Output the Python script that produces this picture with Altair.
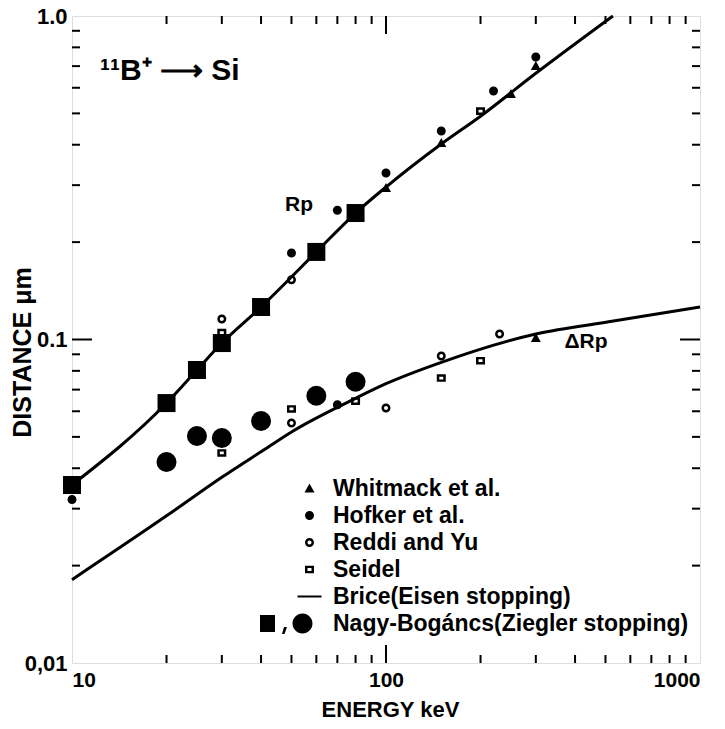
import altair as alt
import pandas as pd

# ---------------- data ----------------
series_names = [
    "Whitmack et al.",
    "Hofker et al.",
    "Reddi and Yu",
    "Seidel",
    "Brice(Eisen stopping)",
    "Nagy-Bogáncs(Ziegler stopping)",
]

whitmack_E = [100, 150, 250, 300, 300]
whitmack_D = [0.294, 0.405, 0.574, 0.70, 0.101]
hofker_E = [10, 50, 70, 100, 150, 220, 300, 70]
hofker_D = [0.032, 0.185, 0.251, 0.327, 0.441, 0.586, 0.747, 0.0628]
reddi_E = [30, 50, 50, 100, 150, 230]
reddi_D = [0.1157, 0.153, 0.0552, 0.0614, 0.0889, 0.104]
seidel_E = [30, 200, 30, 50, 80, 150, 200]
seidel_D = [0.105, 0.508, 0.0446, 0.061, 0.0645, 0.076, 0.086]

nagy_rp_E = [10, 20, 25, 30, 40, 60, 80]
nagy_rp_D = [0.0355, 0.0636, 0.0805, 0.0975, 0.126, 0.1865, 0.246]
nagy_drp_E = [20, 25, 30, 40, 60, 80]
nagy_drp_D = [0.0418, 0.0503, 0.0496, 0.056, 0.067, 0.074]

brice_rp_E = [10, 20, 25, 30, 40, 60, 80, 100, 150, 200, 300, 528]
brice_rp_D = [0.0355, 0.0636, 0.0805, 0.0975, 0.126, 0.1865, 0.246, 0.296, 0.402, 0.49, 0.665, 1.0]
brice_drp_E = [10, 20, 30, 41, 50, 80, 100, 150, 300, 530, 1000]
brice_drp_D = [0.0181, 0.0285, 0.0375, 0.0457, 0.0518, 0.0658, 0.073, 0.085, 0.104, 0.114, 0.126]

x_tick_values = [10, 100, 1000]
x_tick_labels = ["10", "100", "1000"]
y_tick_values = [0.01, 0.1, 1.0]
y_tick_labels = ["0,01", "0.1", "1.0"]
x_minor = [20, 30, 40, 50, 60, 70, 80, 90, 200, 300, 400, 500, 600, 700, 800, 900]
x_major = [100]
y_minor = [0.02, 0.03, 0.04, 0.05, 0.06, 0.07, 0.08, 0.09, 0.2, 0.3, 0.4, 0.5, 0.6, 0.7, 0.8, 0.9]
y_major = [0.1]

# ---------------- tables ----------------
pts = pd.concat([
    pd.DataFrame({"E": whitmack_E, "D": whitmack_D, "series": series_names[0]}),
    pd.DataFrame({"E": hofker_E, "D": hofker_D, "series": series_names[1]}),
    pd.DataFrame({"E": reddi_E, "D": reddi_D, "series": series_names[2]}),
    pd.DataFrame({"E": seidel_E, "D": seidel_D, "series": series_names[3]}),
], ignore_index=True)
brice = pd.concat([
    pd.DataFrame({"E": brice_rp_E, "D": brice_rp_D, "curve": "Rp"}),
    pd.DataFrame({"E": brice_drp_E, "D": brice_drp_D, "curve": "dRp"}),
], ignore_index=True)
nagy_sq = pd.DataFrame({"E": nagy_rp_E, "D": nagy_rp_D})
nagy_ci = pd.DataFrame({"E": nagy_drp_E, "D": nagy_drp_D})

W, H = 628, 647
FONT = "Liberation Sans"

# symbol shapes (unit box, scaled by sqrt(size)/2)
TRI = "M0,-0.5L0.5,0.4L-0.5,0.4Z"
DOT = "M-0.45,0A0.45,0.45 0 1,0 0.45,0A0.45,0.45 0 1,0 -0.45,0Z"
RING = DOT + "M-0.2,0A0.2,0.2 0 1,1 0.2,0A0.2,0.2 0 1,1 -0.2,0Z"
SQRING = "M-0.45,-0.38H0.45V0.38H-0.45ZM-0.2,-0.14V0.14H0.2V-0.14Z"
LINE = "M-1.2,-0.1H1.2V0.1H-1.2Z"
NAGY = ("M-4.95,-0.85H-3.45V0.85H-4.95Z"
        "M-2.55,0.35L-2.25,0.35L-2.5,1.05L-2.75,1.05Z"
        "M-1.7,0A1,1 0 1,0 0.3,0A1,1 0 1,0 -1.7,0Z")

xscale = alt.Scale(type="log", domain=[10, 1000], nice=False)
yscale = alt.Scale(type="log", domain=[0.01, 1], nice=False)

def lab_expr(vals, labs):
    parts = " : ".join(f"datum.value == {v} ? '{l}'" for v, l in zip(vals, labs))
    return parts + " : ''"

xenc = alt.X("E:Q", scale=xscale, axis=alt.Axis(
    values=x_tick_values, labelExpr=lab_expr(x_tick_values, x_tick_labels),
    title="ENERGY keV", ticks=False, domain=False, grid=False,
    labelFont=FONT, labelFontSize=21, labelFontWeight="bold", labelPadding=6,
    labelColor="black", titleColor="black",
    titleFont=FONT, titleFontSize=22, titleFontWeight="bold",
    titleX=318, titleY=46, titleBaseline="middle", titleAlign="center"))
yenc = alt.Y("D:Q", scale=yscale, axis=alt.Axis(
    values=y_tick_values, labelExpr=lab_expr(y_tick_values, y_tick_labels),
    title="DISTANCE μm", ticks=False, domain=False, grid=False,
    labelFont=FONT, labelFontSize=22, labelFontWeight="bold", labelPadding=5,
    labelColor="black", titleColor="black",
    titleFont=FONT, titleFontSize=25, titleFontWeight="bold",
    titleX=-50, titleY=336, titleBaseline="middle", titleAlign="center", titleAngle=-90))

layers = []

# inward ticks on all four sides
def xticks(vals, ln):
    df = pd.DataFrame({"E": vals})
    b = alt.Chart(df).mark_rule(color="black", strokeWidth=2)
    return [b.encode(x=alt.X("E:Q", scale=xscale), y=alt.value(0), y2=alt.value(ln)),
            b.encode(x=alt.X("E:Q", scale=xscale), y=alt.value(H), y2=alt.value(H - ln))]

def yticks(vals, ln):
    df = pd.DataFrame({"D": vals})
    b = alt.Chart(df).mark_rule(color="black", strokeWidth=2)
    return [b.encode(y=alt.Y("D:Q", scale=yscale), x=alt.value(0), x2=alt.value(ln)),
            b.encode(y=alt.Y("D:Q", scale=yscale), x=alt.value(W), x2=alt.value(W - ln))]

layers += xticks(x_minor, 8) + xticks(x_major, 18) + yticks(y_minor, 8) + yticks(y_major, 20)

lines = alt.Chart(brice).mark_line(color="black", strokeWidth=3, interpolate="monotone").encode(
    x=xenc, y=yenc, detail="curve:N")
squares = alt.Chart(nagy_sq).mark_square(size=324, color="black", opacity=1).encode(
    x=alt.X("E:Q", scale=xscale), y=alt.Y("D:Q", scale=yscale))
circles = alt.Chart(nagy_ci).mark_circle(size=400, color="black", opacity=1).encode(
    x=alt.X("E:Q", scale=xscale), y=alt.Y("D:Q", scale=yscale))
points = alt.Chart(pts).mark_point(filled=True, size=400, color="black", opacity=1).encode(
    x=alt.X("E:Q", scale=xscale), y=alt.Y("D:Q", scale=yscale),
    shape=alt.Shape("series:N", scale=alt.Scale(domain=series_names,
                                                 range=[TRI, DOT, RING, SQRING, LINE, NAGY]),
                    legend=alt.Legend(title=None, orient="none", legendX=226, legendY=461,
                                      labelFont=FONT, labelFontSize=23, labelFontWeight="bold",
                                      labelColor="black", symbolSize=400,
                                      symbolFillColor="black", symbolStrokeWidth=0,
                                      symbolOpacity=1, rowPadding=3, labelOffset=12,
                                      padding=0, labelLimit=500)))

def txt(s, x, y, size, align="center", base="middle"):
    return alt.Chart(pd.DataFrame({"t": [s]})).mark_text(
        font=FONT, fontSize=size, fontWeight="bold", color="black", align=align, baseline=base
    ).encode(x=alt.value(x), y=alt.value(y), text="t:N")

layers += [lines, squares, circles, points,
           txt("Rp", 227, 189, 21),
           txt("ΔRp", 514, 326, 21),
           txt("¹¹B⁺ ⟶ Si", 28, 64, 30, align="left", base="alphabetic")]

chart = alt.layer(*layers).properties(
    width=W, height=H,
    autosize=alt.AutoSizeParams(type="none"),
    padding={"left": 72, "top": 16, "right": 25, "bottom": 66},
).configure_view(stroke="black", strokeWidth=2.5).configure(background="white")

chart.save("out.html", embed_options={"renderer": "svg", "actions": False})
